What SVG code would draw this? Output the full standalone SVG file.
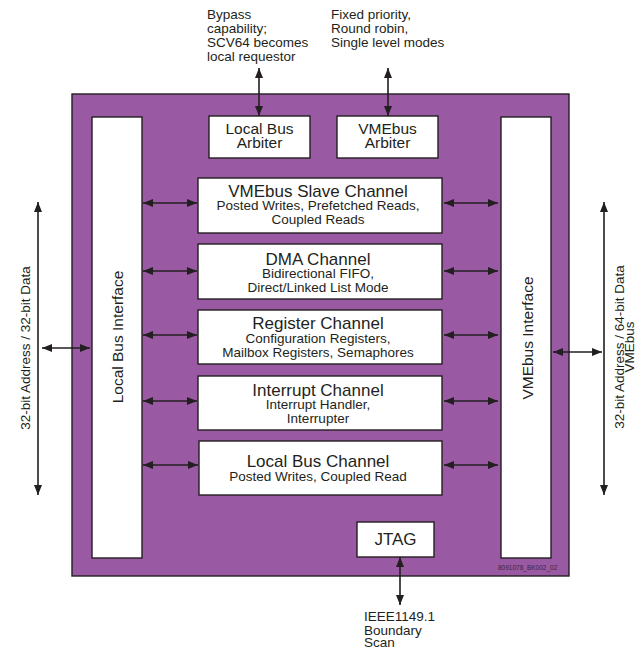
<svg xmlns="http://www.w3.org/2000/svg" width="636" height="650" viewBox="0 0 636 650">
<style>
.box{fill:#fff;stroke:#231f20;stroke-width:1.4}
.chip{fill:#9a59a3;stroke:#231f20;stroke-width:1.4}
.t{font-family:"Liberation Sans",Arial,sans-serif;fill:#231f20}
.title{font-size:17px;text-anchor:middle}
.sub{font-size:13.5px;text-anchor:middle}
.mid{font-size:15.5px;text-anchor:middle}
.ext{font-size:13.5px}
.wire{stroke:#231f20;stroke-width:1.6;fill:none;marker-start:url(#ah);marker-end:url(#ah)}
</style>
<defs>
<marker id="ah" viewBox="0 0 10 8" refX="10" refY="4" markerWidth="10" markerHeight="8" markerUnits="userSpaceOnUse" orient="auto-start-reverse">
<path d="M0,0 L10,4 L0,8 Z" fill="#231f20"/>
</marker>
</defs>
<g id="chip">
<rect class="chip" x="72" y="94" width="497" height="482"/>
<text class="t" x="498" y="570" font-size="6.5" style="fill:#3d2640">8091078_BK002_02</text>
</g>
<g id="local-bus-interface">
<rect class="box" x="92" y="117" width="50" height="441"/>
<text class="t mid" transform="translate(123,337) rotate(-90)">Local Bus Interface</text>
</g>
<g id="vmebus-interface">
<rect class="box" x="501" y="117" width="50" height="441"/>
<text class="t mid" transform="translate(533,338) rotate(-90)">VMEbus Interface</text>
</g>
<g id="local-bus-arbiter">
<rect class="box" x="209" y="116" width="101" height="42"/>
<text class="t mid" x="259.5" y="134">Local Bus</text>
<text class="t mid" x="259.5" y="148">Arbiter</text>
</g>
<g id="vmebus-arbiter">
<rect class="box" x="337" y="116" width="101" height="42"/>
<text class="t mid" x="387.5" y="134">VMEbus</text>
<text class="t mid" x="387.5" y="148">Arbiter</text>
</g>
<g id="vmebus-slave-channel">
<rect class="box" x="198" y="178" width="244" height="55"/>
<text class="t title" x="318" y="197">VMEbus Slave Channel</text>
<text class="t sub" x="318" y="210">Posted Writes, Prefetched Reads,</text>
<text class="t sub" x="318" y="224">Coupled Reads</text>
</g>
<g id="dma-channel">
<rect class="box" x="198" y="244" width="244" height="55"/>
<text class="t title" x="318" y="265">DMA Channel</text>
<text class="t sub" x="318" y="278">Bidirectional FIFO,</text>
<text class="t sub" x="318" y="292">Direct/Linked List Mode</text>
</g>
<g id="register-channel">
<rect class="box" x="198" y="310" width="244" height="54"/>
<text class="t title" x="318" y="329">Register Channel</text>
<text class="t sub" x="318" y="343">Configuration Registers,</text>
<text class="t sub" x="318" y="357">Mailbox Registers, Semaphores</text>
</g>
<g id="interrupt-channel">
<rect class="box" x="198" y="376" width="244" height="54"/>
<text class="t title" x="318" y="396">Interrupt Channel</text>
<text class="t sub" x="318" y="409">Interrupt Handler,</text>
<text class="t sub" x="318" y="423">Interrupter</text>
</g>
<g id="local-bus-channel">
<rect class="box" x="199" y="441" width="243" height="54"/>
<text class="t title" x="318" y="467">Local Bus Channel</text>
<text class="t sub" x="318" y="481">Posted Writes, Coupled Read</text>
</g>
<g id="jtag">
<rect class="box" x="357" y="522" width="77" height="35"/>
<text class="t title" x="395.5" y="545">JTAG</text>
</g>
<g id="labels">
<text class="t ext" x="207" y="18.5">Bypass</text>
<text class="t ext" x="207" y="32.5">capability;</text>
<text class="t ext" x="207" y="46.5">SCV64 becomes</text>
<text class="t ext" x="207" y="60.5">local requestor</text>
<text class="t ext" x="331" y="18.5">Fixed priority,</text>
<text class="t ext" x="331" y="32.5">Round robin,</text>
<text class="t ext" x="331" y="46.5">Single level modes</text>
<text class="t ext" x="364" y="621">IEEE1149.1</text>
<text class="t ext" x="364" y="634.5">Boundary</text>
<text class="t ext" x="364" y="647">Scan</text>
<text class="t ext" text-anchor="middle" transform="translate(30,348) rotate(-90)">32-bit Address / 32-bit Data</text>
<text class="t ext" text-anchor="middle" transform="translate(624,347) rotate(-90)">32-bit Address / 64-bit Data</text>
<text class="t ext" text-anchor="middle" transform="translate(634,347) rotate(-90)">VMEbus</text>
</g>
<g id="connectors">
<line class="wire" x1="259" y1="68" x2="259" y2="116"/>
<line class="wire" x1="388" y1="68" x2="388" y2="116"/>
<line class="wire" x1="143" y1="203" x2="197" y2="203"/>
<line class="wire" x1="143" y1="271" x2="197" y2="271"/>
<line class="wire" x1="143" y1="335" x2="197" y2="335"/>
<line class="wire" x1="143" y1="401" x2="197" y2="401"/>
<line class="wire" x1="143" y1="465" x2="198" y2="465"/>
<line class="wire" x1="444" y1="203" x2="498" y2="203"/>
<line class="wire" x1="444" y1="271" x2="498" y2="271"/>
<line class="wire" x1="444" y1="335" x2="498" y2="335"/>
<line class="wire" x1="444" y1="401" x2="498" y2="401"/>
<line class="wire" x1="444" y1="465" x2="498" y2="465"/>
<line class="wire" x1="38" y1="202" x2="38" y2="495"/>
<line class="wire" x1="42" y1="348" x2="90" y2="348"/>
<line class="wire" x1="604" y1="202" x2="604" y2="495"/>
<line class="wire" x1="553" y1="352" x2="602" y2="352"/>
<line class="wire" x1="400" y1="557" x2="400" y2="605"/>
</g>
</svg>
